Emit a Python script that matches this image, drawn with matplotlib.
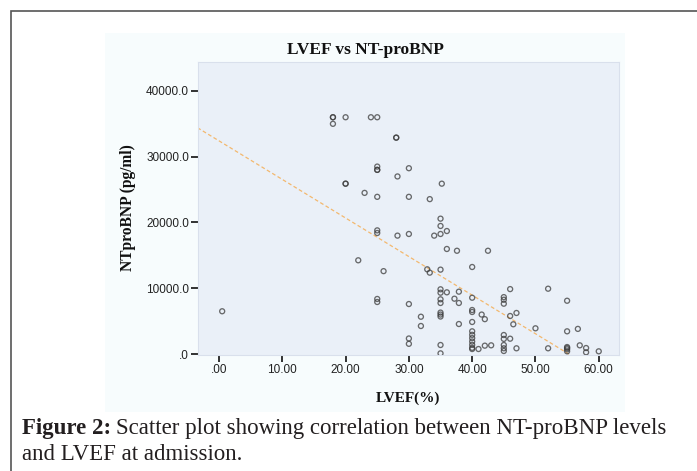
import numpy as np
import matplotlib.pyplot as plt
from matplotlib.patches import Rectangle

# LVEF (%) and NT-proBNP (pg/ml)
lvef = [0.5, 18, 18, 18, 20, 20, 20, 24, 25, 28, 28,
        25, 25, 25, 30, 28.2, 35.2, 23, 25, 30, 33.3,
        35, 35, 36, 25, 25, 28.2, 30, 34, 35,
        36, 37.6, 42.5, 22, 26, 32.9, 33.3, 35, 40,
        35, 35, 36, 37.9, 35, 35, 37.2, 37.9, 40, 25, 25, 30,
        35, 35, 35, 40, 40, 41.5, 42, 40, 37.9, 31.9, 31.9,
        40, 40, 40, 40, 40, 40, 40, 41, 42, 43, 30, 30, 35, 35,
        46, 52, 45, 45, 45, 55, 47, 46, 46.5, 50, 56.7, 55,
        45, 45, 46, 45, 45, 45, 47, 52, 55, 55, 55, 55, 57, 58, 58, 60]
ntprobnp = [6500, 36000, 36000, 35000, 36000, 25900, 25900, 36000, 36000, 32900, 32900,
            28500, 28000, 28000, 28250, 27000, 25900, 24500, 23900, 23900, 23550,
            20580, 19470, 18700, 18800, 18400, 18000, 18250, 18000, 18250,
            15970, 15700, 15700, 14250, 12600, 12880, 12370, 12830, 13230,
            9840, 9320, 9380, 9480, 8320, 7760, 8410, 7760, 8560, 8370, 7910, 7600,
            6300, 6000, 5700, 6690, 6390, 6000, 5300, 4870, 4560, 5670, 4260,
            3450, 2920, 2420, 1900, 1400, 940, 760, 760, 1270, 1320, 2360, 1550, 1370, 100,
            9870, 9930, 8650, 8250, 7650, 8100, 6240, 5780, 4520, 3910, 3820, 3450,
            2890, 2300, 2330, 1370, 870, 460, 870, 870, 1060, 910, 710, 410, 1320, 910, 260, 410]

fit_intercept = 32410
fit_slope = -586.5

x_ticks = [0, 10, 20, 30, 40, 50, 60]
x_labels = ['.00', '10.00', '20.00', '30.00', '40.00', '50.00', '60.00']
y_ticks = [0, 10000, 20000, 30000, 40000]
y_labels = ['.0', '10000.0', '20000.0', '30000.0', '40000.0']

caption_bold = 'Figure 2:'
caption_line1 = 'Scatter plot showing correlation between NT-proBNP levels'
caption_line2 = 'and LVEF at admission.'

W, H = 697, 471
def fx(px):
    return px / W
def fy(py):
    return 1 - py / H

fig = plt.figure(figsize=(W / 100, H / 100), dpi=100)
fig.patch.set_facecolor('white')

# outer frame and pale chart panel
fig.patches.append(Rectangle((fx(11), fy(490)), fx(700) - fx(11), fy(11) - fy(490),
                             transform=fig.transFigure, fill=False,
                             edgecolor='#555555', linewidth=1.2, zorder=-2))
fig.patches.append(Rectangle((fx(105), fy(412)), fx(625) - fx(105), fy(33) - fy(412),
                             transform=fig.transFigure, facecolor='#F7FCFD',
                             edgecolor='none', zorder=-2))

ax = fig.add_axes([fx(198), fy(355), fx(619) - fx(198), fy(62) - fy(355)])
ax.set_zorder(2)
ax.set_facecolor('#EAF0F8')
for s in ax.spines.values():
    s.set_color('#D9E0EC')
    s.set_linewidth(0.8)

ax.scatter(lvef, ntprobnp, s=13, facecolors='none', edgecolors='#3c3c3c',
           linewidths=0.95, alpha=0.75, zorder=3)

xl = np.array([-3.4, 63.3])
ax.plot(xl, fit_intercept + fit_slope * xl, linestyle=(0, (3, 2)),
        color='#F3B86E', linewidth=0.9, zorder=2)

ax.set_xlim(-3.32, 63.2)
ax.set_ylim(-150, 44400)
ax.set_xticks(x_ticks)
ax.set_xticklabels(x_labels)
ax.set_yticks(y_ticks)
ax.set_yticklabels(y_labels)
ax.tick_params(direction='out', length=5, width=1.3, color='#222222',
               labelsize=8.5, labelcolor='#222222', pad=1.5)
for lab in ax.get_xticklabels() + ax.get_yticklabels():
    lab.set_family('Liberation Sans')

serif = 'Liberation Serif'
fig.text(fx(365), fy(50), 'LVEF vs NT-proBNP', ha='center', va='center',
         family=serif, fontweight='bold', fontsize=12.5, color='#111111')
fig.text(fx(128), fy(208), 'NTproBNP (pg/ml)', ha='center', va='center', rotation=90,
         family=serif, fontweight='bold', fontsize=11.2, color='#111111')
fig.text(fx(408), fy(398), 'LVEF(%)', ha='center', va='center',
         family=serif, fontweight='bold', fontsize=11, color='#111111')

# caption below the chart
cap_color = '#231F20'
cap_size = 16.5
t1 = fig.text(fx(22), fy(434), caption_bold, ha='left', va='baseline', family=serif,
              fontweight='bold', fontsize=cap_size, color=cap_color)
fig.canvas.draw()
bb = t1.get_window_extent(fig.canvas.get_renderer())
fig.text(bb.x1 / W + fx(5), fy(434), caption_line1, ha='left', va='baseline',
         family=serif, fontsize=cap_size, color=cap_color)
fig.text(fx(22), fy(460), caption_line2, ha='left', va='baseline',
         family=serif, fontsize=cap_size, color=cap_color)

fig.savefig('out.png', dpi=100)
